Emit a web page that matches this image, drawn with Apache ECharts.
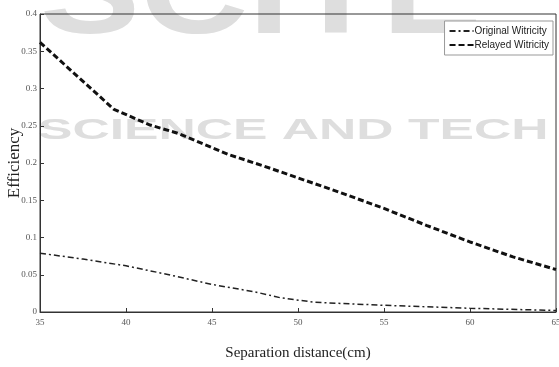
<!DOCTYPE html>
<html><head><meta charset="utf-8">
<script src="https://cdn.jsdelivr.net/npm/echarts@6/dist/echarts.min.js"></script>
<style>html,body{margin:0;padding:0;background:#fff}#c{width:559px;height:367px}</style>
</head><body><div id="c"></div>
<script>
const originalX = [35, 37.5, 40, 42.5, 45, 47.5, 49, 51, 55, 60, 65];
const originalY = [0.079, 0.071, 0.062, 0.05, 0.037, 0.027, 0.019, 0.013, 0.009, 0.005, 0.002];
const relayedX = [35, 37, 39.3, 41.4, 43, 46, 48, 50, 52.5, 55, 57.5, 60, 62.5, 65];
const relayedY = [0.362, 0.32, 0.272, 0.251, 0.24, 0.211, 0.196, 0.18, 0.16, 0.139, 0.116, 0.094, 0.074, 0.057];
const xTicks = [35, 40, 45, 50, 55, 60, 65];
const yTicks = [0, 0.05, 0.1, 0.15, 0.2, 0.25, 0.3, 0.35, 0.4];

const zip = (xs, ys) => xs.map((x, i) => [x, ys[i]]);
const chart = echarts.init(document.getElementById('c'), null, {renderer: 'canvas'});
const tickFont = {fontFamily: 'Liberation Sans Narrow', fontSize: 9, color: '#555'};
chart.setOption({
  animation: false,
  backgroundColor: '#fff',
  graphic: [
    {type: 'text', x: 40, y: -60, scaleX: 1.25, z: -10, silent: true,
     style: {text: 'SCITE', font: 'bold 120px Liberation Sans', fill: '#dedede'}},
    {type: 'text', x: 38, y: 116, scaleX: 1.78, z: -10, silent: true,
     style: {text: 'SCIENCE AND TECH', font: 'bold 29px Liberation Sans', fill: '#dedede'}}
  ],
  grid: {left: 40, right: 3, top: 14, bottom: 55, outerBoundsMode: 'none', containLabel: false,
         show: true, borderColor: '#333', borderWidth: 1, backgroundColor: 'transparent'},
  legend: {
    right: 6, top: 21, orient: 'vertical', itemGap: 4, itemWidth: 24, itemHeight: 10,
    backgroundColor: '#fff', borderColor: '#999', borderWidth: 1, padding: [5, 4, 5, 4],
    itemStyle: {opacity: 0},
    textStyle: {fontFamily: 'Liberation Sans Narrow, Liberation Sans', fontSize: 10, color: '#222', padding: [0, 0, 0, -4]},
    data: ['Original Witricity', 'Relayed Witricity']
  },
  xAxis: {
    type: 'value', min: xTicks[0], max: xTicks[xTicks.length - 1], interval: 5,
    name: 'Separation distance(cm)', nameLocation: 'middle', nameGap: 34, nameMoveOverlap: false,
    nameTextStyle: {fontFamily: 'Liberation Serif', fontSize: 15, color: '#222'},
    axisLine: {lineStyle: {color: '#333'}},
    axisTick: {inside: true, length: 4, lineStyle: {color: '#333'}},
    axisLabel: Object.assign({margin: 6}, tickFont),
    splitLine: {show: false}
  },
  yAxis: {
    type: 'value', min: 0, max: 0.4, interval: 0.05,
    name: 'Efficiency', nameLocation: 'middle', nameGap: 17, nameMoveOverlap: false,
    nameTextStyle: {fontFamily: 'Liberation Serif', fontSize: 17, color: '#222'},
    axisLine: {lineStyle: {color: '#333'}},
    axisTick: {inside: true, length: 4, lineStyle: {color: '#333'}},
    axisLabel: Object.assign({margin: 3, formatter: v => v === 0 ? '0' : String(+v.toFixed(2))}, tickFont),
    splitLine: {show: false}
  },
  series: [
    {name: 'Original Witricity', type: 'line', symbol: 'none', data: zip(originalX, originalY),
     lineStyle: {color: '#222', width: 1.5, type: [6, 3, 2, 3]}, itemStyle: {color: '#222'}},
    {name: 'Relayed Witricity', type: 'line', symbol: 'none', data: zip(relayedX, relayedY),
     lineStyle: {color: '#111', width: 3, type: [6, 3]}, itemStyle: {color: '#111'}}
  ]
});
</script></body></html>
